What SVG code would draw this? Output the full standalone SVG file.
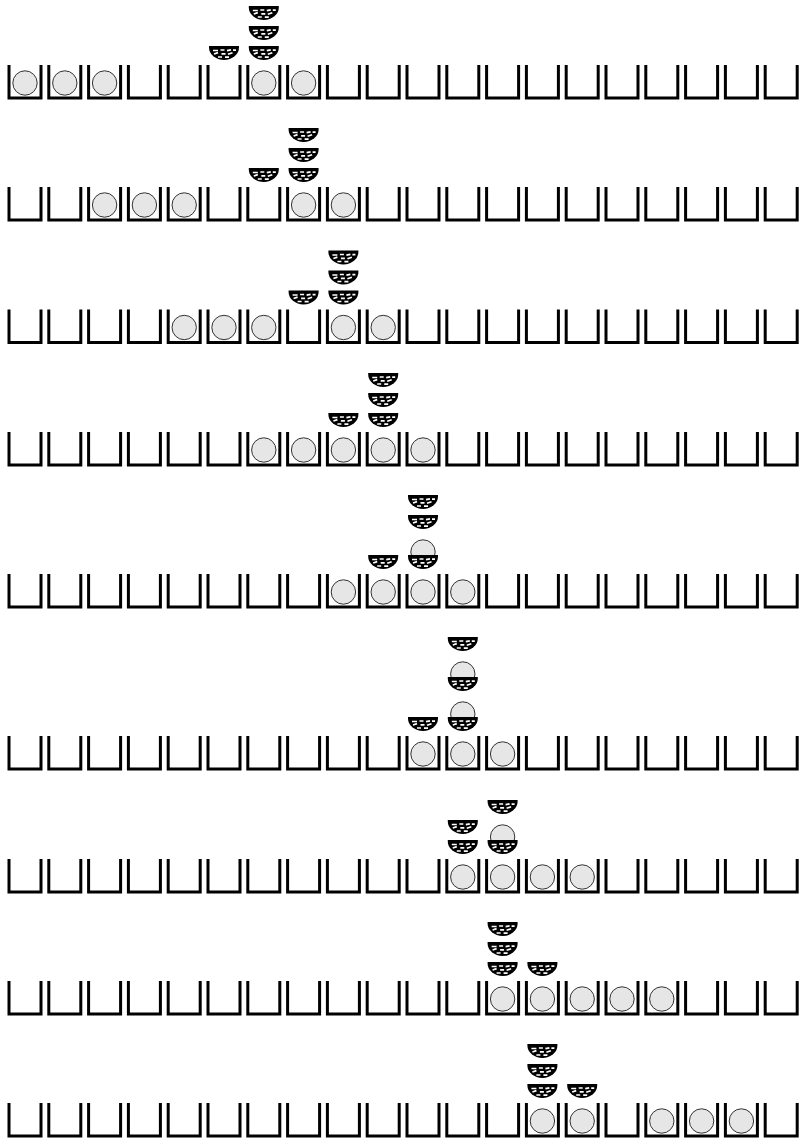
<svg xmlns="http://www.w3.org/2000/svg" xmlns:xlink="http://www.w3.org/1999/xlink" width="799" height="1141" viewBox="0 0 799 1141">
<style>
.bk{fill:none;stroke:#000;stroke-width:3;stroke-linejoin:miter}
.ball{fill:#e6e6e6;stroke:#333;stroke-width:1}
.bs{fill:#000}
.wv{stroke:#fff;stroke-width:1.7;fill:none;stroke-linecap:butt}
</style>
<defs>
<path id="bucket" class="bk" d="M-1,0 V33 H31 V0"/>
<circle id="ball" class="ball" r="12.2"/>
<g id="basket">
<path class="bs" d="M-15,0 H15 V1.5 A15,12.5 0 0 1 -15,1.5 Z"/>
<path class="wv" d="M-11,4.5 h5 M-3.5,4 h4 M3,4.6 l4,-0.8 M9,4.2 h3 M-10,8 l4,-1.4 M-2.5,7.8 h4 M4,8.3 l4.5,-1.5 M-6,11 h4 M1,11.2 h4"/>
</g>
</defs>
<rect width="799" height="1141" fill="#fff"/>

<g id="row1" transform="translate(0,65)">
<g id="row1-buckets"><use href="#bucket" x="10"/><use href="#bucket" x="49.8"/><use href="#bucket" x="89.6"/><use href="#bucket" x="129.4"/><use href="#bucket" x="169.2"/><use href="#bucket" x="209"/><use href="#bucket" x="248.8"/><use href="#bucket" x="288.6"/><use href="#bucket" x="328.4"/><use href="#bucket" x="368.2"/><use href="#bucket" x="408"/><use href="#bucket" x="447.8"/><use href="#bucket" x="487.6"/><use href="#bucket" x="527.4"/><use href="#bucket" x="567.2"/><use href="#bucket" x="607"/><use href="#bucket" x="646.8"/><use href="#bucket" x="686.6"/><use href="#bucket" x="726.4"/><use href="#bucket" x="766.2"/></g>
<g id="row1-balls"><use href="#ball" x="25" y="18"/><use href="#ball" x="64.8" y="18"/><use href="#ball" x="104.6" y="18"/><use href="#ball" x="263.8" y="18"/><use href="#ball" x="303.6" y="18"/></g>
<g id="row1-stack-a"><use href="#basket" x="224" y="-19"/></g>
<g id="row1-stack-b"><use href="#basket" x="263.8" y="-19"/><use href="#basket" x="263.8" y="-39"/><use href="#basket" x="263.8" y="-59"/></g>
</g>

<g id="row2" transform="translate(0,187)">
<g id="row2-buckets"><use href="#bucket" x="10"/><use href="#bucket" x="49.8"/><use href="#bucket" x="89.6"/><use href="#bucket" x="129.4"/><use href="#bucket" x="169.2"/><use href="#bucket" x="209"/><use href="#bucket" x="248.8"/><use href="#bucket" x="288.6"/><use href="#bucket" x="328.4"/><use href="#bucket" x="368.2"/><use href="#bucket" x="408"/><use href="#bucket" x="447.8"/><use href="#bucket" x="487.6"/><use href="#bucket" x="527.4"/><use href="#bucket" x="567.2"/><use href="#bucket" x="607"/><use href="#bucket" x="646.8"/><use href="#bucket" x="686.6"/><use href="#bucket" x="726.4"/><use href="#bucket" x="766.2"/></g>
<g id="row2-balls"><use href="#ball" x="104.6" y="18"/><use href="#ball" x="144.4" y="18"/><use href="#ball" x="184.2" y="18"/><use href="#ball" x="303.6" y="18"/><use href="#ball" x="343.4" y="18"/></g>
<g id="row2-stack-a"><use href="#basket" x="263.8" y="-19"/></g>
<g id="row2-stack-b"><use href="#basket" x="303.6" y="-19"/><use href="#basket" x="303.6" y="-39"/><use href="#basket" x="303.6" y="-59"/></g>
</g>

<g id="row3" transform="translate(0,309.5)">
<g id="row3-buckets"><use href="#bucket" x="10"/><use href="#bucket" x="49.8"/><use href="#bucket" x="89.6"/><use href="#bucket" x="129.4"/><use href="#bucket" x="169.2"/><use href="#bucket" x="209"/><use href="#bucket" x="248.8"/><use href="#bucket" x="288.6"/><use href="#bucket" x="328.4"/><use href="#bucket" x="368.2"/><use href="#bucket" x="408"/><use href="#bucket" x="447.8"/><use href="#bucket" x="487.6"/><use href="#bucket" x="527.4"/><use href="#bucket" x="567.2"/><use href="#bucket" x="607"/><use href="#bucket" x="646.8"/><use href="#bucket" x="686.6"/><use href="#bucket" x="726.4"/><use href="#bucket" x="766.2"/></g>
<g id="row3-balls"><use href="#ball" x="184.2" y="18"/><use href="#ball" x="224" y="18"/><use href="#ball" x="263.8" y="18"/><use href="#ball" x="343.4" y="18"/><use href="#ball" x="383.2" y="18"/></g>
<g id="row3-stack-a"><use href="#basket" x="303.6" y="-19"/></g>
<g id="row3-stack-b"><use href="#basket" x="343.4" y="-19"/><use href="#basket" x="343.4" y="-39"/><use href="#basket" x="343.4" y="-59"/></g>
</g>

<g id="row4" transform="translate(0,432)">
<g id="row4-buckets"><use href="#bucket" x="10"/><use href="#bucket" x="49.8"/><use href="#bucket" x="89.6"/><use href="#bucket" x="129.4"/><use href="#bucket" x="169.2"/><use href="#bucket" x="209"/><use href="#bucket" x="248.8"/><use href="#bucket" x="288.6"/><use href="#bucket" x="328.4"/><use href="#bucket" x="368.2"/><use href="#bucket" x="408"/><use href="#bucket" x="447.8"/><use href="#bucket" x="487.6"/><use href="#bucket" x="527.4"/><use href="#bucket" x="567.2"/><use href="#bucket" x="607"/><use href="#bucket" x="646.8"/><use href="#bucket" x="686.6"/><use href="#bucket" x="726.4"/><use href="#bucket" x="766.2"/></g>
<g id="row4-balls"><use href="#ball" x="263.8" y="18"/><use href="#ball" x="303.6" y="18"/><use href="#ball" x="343.4" y="18"/><use href="#ball" x="383.2" y="18"/><use href="#ball" x="423" y="18"/></g>
<g id="row4-stack-a"><use href="#basket" x="343.4" y="-19"/></g>
<g id="row4-stack-b"><use href="#basket" x="383.2" y="-19"/><use href="#basket" x="383.2" y="-39"/><use href="#basket" x="383.2" y="-59"/></g>
</g>

<g id="row5" transform="translate(0,574)">
<g id="row5-buckets"><use href="#bucket" x="10"/><use href="#bucket" x="49.8"/><use href="#bucket" x="89.6"/><use href="#bucket" x="129.4"/><use href="#bucket" x="169.2"/><use href="#bucket" x="209"/><use href="#bucket" x="248.8"/><use href="#bucket" x="288.6"/><use href="#bucket" x="328.4"/><use href="#bucket" x="368.2"/><use href="#bucket" x="408"/><use href="#bucket" x="447.8"/><use href="#bucket" x="487.6"/><use href="#bucket" x="527.4"/><use href="#bucket" x="567.2"/><use href="#bucket" x="607"/><use href="#bucket" x="646.8"/><use href="#bucket" x="686.6"/><use href="#bucket" x="726.4"/><use href="#bucket" x="766.2"/></g>
<g id="row5-balls"><use href="#ball" x="343.4" y="18"/><use href="#ball" x="383.2" y="18"/><use href="#ball" x="423" y="18"/><use href="#ball" x="462.8" y="18"/></g>
<g id="row5-stack-a"><use href="#basket" x="383.2" y="-19"/></g>
<g id="row5-stack-b"><use href="#ball" x="423" y="-22"/><use href="#basket" x="423" y="-19"/><use href="#basket" x="423" y="-59"/><use href="#basket" x="423" y="-79"/></g>
</g>

<g id="row6" transform="translate(0,736)">
<g id="row6-buckets"><use href="#bucket" x="10"/><use href="#bucket" x="49.8"/><use href="#bucket" x="89.6"/><use href="#bucket" x="129.4"/><use href="#bucket" x="169.2"/><use href="#bucket" x="209"/><use href="#bucket" x="248.8"/><use href="#bucket" x="288.6"/><use href="#bucket" x="328.4"/><use href="#bucket" x="368.2"/><use href="#bucket" x="408"/><use href="#bucket" x="447.8"/><use href="#bucket" x="487.6"/><use href="#bucket" x="527.4"/><use href="#bucket" x="567.2"/><use href="#bucket" x="607"/><use href="#bucket" x="646.8"/><use href="#bucket" x="686.6"/><use href="#bucket" x="726.4"/><use href="#bucket" x="766.2"/></g>
<g id="row6-balls"><use href="#ball" x="423" y="18"/><use href="#ball" x="462.8" y="18"/><use href="#ball" x="502.6" y="18"/></g>
<g id="row6-stack-a"><use href="#basket" x="423" y="-19"/></g>
<g id="row6-stack-b"><use href="#ball" x="462.8" y="-22"/><use href="#basket" x="462.8" y="-19"/><use href="#ball" x="462.8" y="-62"/><use href="#basket" x="462.8" y="-59"/><use href="#basket" x="462.8" y="-99"/></g>
</g>

<g id="row7" transform="translate(0,859)">
<g id="row7-buckets"><use href="#bucket" x="10"/><use href="#bucket" x="49.8"/><use href="#bucket" x="89.6"/><use href="#bucket" x="129.4"/><use href="#bucket" x="169.2"/><use href="#bucket" x="209"/><use href="#bucket" x="248.8"/><use href="#bucket" x="288.6"/><use href="#bucket" x="328.4"/><use href="#bucket" x="368.2"/><use href="#bucket" x="408"/><use href="#bucket" x="447.8"/><use href="#bucket" x="487.6"/><use href="#bucket" x="527.4"/><use href="#bucket" x="567.2"/><use href="#bucket" x="607"/><use href="#bucket" x="646.8"/><use href="#bucket" x="686.6"/><use href="#bucket" x="726.4"/><use href="#bucket" x="766.2"/></g>
<g id="row7-balls"><use href="#ball" x="462.8" y="18"/><use href="#ball" x="502.6" y="18"/><use href="#ball" x="542.4" y="18"/><use href="#ball" x="582.2" y="18"/></g>
<g id="row7-stack-a"><use href="#basket" x="462.8" y="-19"/><use href="#basket" x="462.8" y="-39"/></g>
<g id="row7-stack-b"><use href="#ball" x="502.6" y="-22"/><use href="#basket" x="502.6" y="-19"/><use href="#basket" x="502.6" y="-59"/></g>
</g>

<g id="row8" transform="translate(0,981)">
<g id="row8-buckets"><use href="#bucket" x="10"/><use href="#bucket" x="49.8"/><use href="#bucket" x="89.6"/><use href="#bucket" x="129.4"/><use href="#bucket" x="169.2"/><use href="#bucket" x="209"/><use href="#bucket" x="248.8"/><use href="#bucket" x="288.6"/><use href="#bucket" x="328.4"/><use href="#bucket" x="368.2"/><use href="#bucket" x="408"/><use href="#bucket" x="447.8"/><use href="#bucket" x="487.6"/><use href="#bucket" x="527.4"/><use href="#bucket" x="567.2"/><use href="#bucket" x="607"/><use href="#bucket" x="646.8"/><use href="#bucket" x="686.6"/><use href="#bucket" x="726.4"/><use href="#bucket" x="766.2"/></g>
<g id="row8-balls"><use href="#ball" x="502.6" y="18"/><use href="#ball" x="542.4" y="18"/><use href="#ball" x="582.2" y="18"/><use href="#ball" x="622" y="18"/><use href="#ball" x="661.8" y="18"/></g>
<g id="row8-stack-a"><use href="#basket" x="502.6" y="-19"/><use href="#basket" x="502.6" y="-39"/><use href="#basket" x="502.6" y="-59"/></g>
<g id="row8-stack-b"><use href="#basket" x="542.4" y="-19"/></g>
</g>

<g id="row9" transform="translate(0,1103)">
<g id="row9-buckets"><use href="#bucket" x="10"/><use href="#bucket" x="49.8"/><use href="#bucket" x="89.6"/><use href="#bucket" x="129.4"/><use href="#bucket" x="169.2"/><use href="#bucket" x="209"/><use href="#bucket" x="248.8"/><use href="#bucket" x="288.6"/><use href="#bucket" x="328.4"/><use href="#bucket" x="368.2"/><use href="#bucket" x="408"/><use href="#bucket" x="447.8"/><use href="#bucket" x="487.6"/><use href="#bucket" x="527.4"/><use href="#bucket" x="567.2"/><use href="#bucket" x="607"/><use href="#bucket" x="646.8"/><use href="#bucket" x="686.6"/><use href="#bucket" x="726.4"/><use href="#bucket" x="766.2"/></g>
<g id="row9-balls"><use href="#ball" x="542.4" y="18"/><use href="#ball" x="582.2" y="18"/><use href="#ball" x="661.8" y="18"/><use href="#ball" x="701.6" y="18"/><use href="#ball" x="741.4" y="18"/></g>
<g id="row9-stack-a"><use href="#basket" x="542.4" y="-19"/><use href="#basket" x="542.4" y="-39"/><use href="#basket" x="542.4" y="-59"/></g>
<g id="row9-stack-b"><use href="#basket" x="582.2" y="-19"/></g>
</g>
</svg>
